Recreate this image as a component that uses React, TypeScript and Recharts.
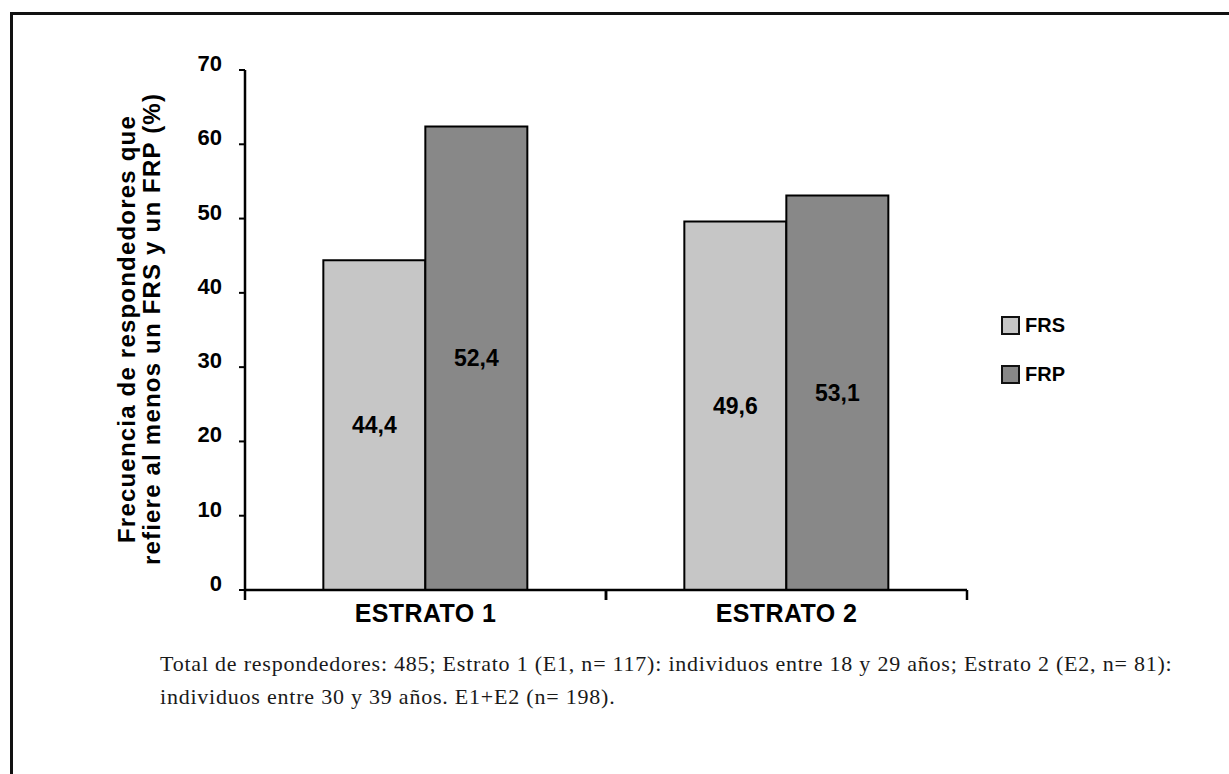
import { BarChart, Bar, XAxis, YAxis, LabelList } from "recharts"

const categories = ["ESTRATO 1", "ESTRATO 2"]
const seriesNames = ["FRS", "FRP"]
const frsValues = [44.4, 49.6]
const frpValues = [62.4, 53.1]
const frsLabels = ["44,4", "49,6"]
const frpLabels = ["52,4", "53,1"]
const yTicks = [0, 10, 20, 30, 40, 50, 60, 70]
const seriesColors = ["#c6c6c6", "#888888"]

const data = categories.map((name, i) => ({
    name,
    frs: frsValues[i],
    frp: frpValues[i],
    frsLabel: frsLabels[i],
    frpLabel: frpLabels[i],
}))

const sans = "'Liberation Sans', Arial, sans-serif"

function YTick(props: any) {
    const { x, y, payload } = props
    return (
        <text
            x={x}
            y={y}
            dy={1}
            textAnchor="end"
            fontFamily={sans}
            fontWeight="bold"
            fontSize={22}
            fill="#000"
        >
            {payload.value}
        </text>
    )
}

// category label plus tick marks on the band edges
function XTick(props: any) {
    const { x, y, payload, width, visibleTicksCount } = props
    const half =
        payload.offset ?? width / (2 * (visibleTicksCount || 2))
    return (
        <g>
            <line x1={x - half} x2={x - half} y1={y} y2={y + 10} stroke="#000" strokeWidth={2.5} />
            <line x1={x + half} x2={x + half} y1={y} y2={y + 10} stroke="#000" strokeWidth={2.5} />
            <text
                x={x}
                y={y}
                dy={32}
                textAnchor="middle"
                fontFamily={sans}
                fontWeight="bold"
                fontSize={25}
                letterSpacing={0.4}
                fill="#000"
            >
                {payload.value}
            </text>
        </g>
    )
}

export default function App() {
    return (
        <div
            style={{
                position: "absolute",
                left: 0,
                top: 0,
                width: 1229,
                height: 774,
                overflow: "hidden",
                background: "#fff",
            }}
        >
            <div
                style={{
                    position: "absolute",
                    left: 10,
                    top: 12,
                    width: 1300,
                    height: 900,
                    borderTop: "3px solid #111",
                    borderLeft: "3px solid #111",
                }}
            />

            <div style={{ position: "absolute", left: 0, top: 0 }}>
                <BarChart
                    width={1229}
                    height={774}
                    data={data}
                    margin={{ top: 70, right: 262, left: 185, bottom: 154 }}
                    barCategoryGap="21.7%"
                    barGap={0}
                >
                    <XAxis
                        dataKey="name"
                        height={30}
                        axisLine={{ stroke: "#000", strokeWidth: 2.5 }}
                        tickLine={false}
                        tickSize={0}
                        tickMargin={0}
                        tick={<XTick />}
                        interval={0}
                    />
                    <YAxis
                        width={60}
                        domain={[0, 70]}
                        ticks={yTicks}
                        interval={0}
                        axisLine={{ stroke: "#000", strokeWidth: 2.5 }}
                        tickSize={6}
                        tickMargin={17}
                        tickLine={{ stroke: "#000", strokeWidth: 2 }}
                        tick={<YTick />}
                    />
                    <Bar
                        dataKey="frs"
                        name={seriesNames[0]}
                        fill={seriesColors[0]}
                        stroke="#000"
                        strokeWidth={2}
                        isAnimationActive={false}
                    >
                        <LabelList
                            dataKey="frsLabel"
                            position="center"
                            fill="#000"
                            fontFamily={sans}
                            fontWeight="bold"
                            fontSize={23}
                        />
                    </Bar>
                    <Bar
                        dataKey="frp"
                        name={seriesNames[1]}
                        fill={seriesColors[1]}
                        stroke="#000"
                        strokeWidth={2}
                        isAnimationActive={false}
                    >
                        <LabelList
                            dataKey="frpLabel"
                            position="center"
                            fill="#000"
                            fontFamily={sans}
                            fontWeight="bold"
                            fontSize={23}
                        />
                    </Bar>
                </BarChart>
            </div>

            <div
                style={{
                    position: "absolute",
                    left: 140 - 280,
                    top: 329 - 26,
                    width: 560,
                    height: 52,
                    transform: "rotate(-90deg)",
                    transformOrigin: "center",
                    textAlign: "center",
                    fontFamily: sans,
                    fontWeight: "bold",
                    fontSize: 24,
                    letterSpacing: 1.2,
                    lineHeight: "25px",
                    color: "#000",
                    whiteSpace: "nowrap",
                }}
            >
                Frecuencia de respondedores que
                <br />
                refiere al menos un FRS y un FRP (%)
            </div>

            {seriesNames.map((s, i) => (
                <div
                    key={s}
                    style={{
                        position: "absolute",
                        left: 1001,
                        top: 314 + i * 49,
                        display: "flex",
                        alignItems: "center",
                        fontFamily: sans,
                        fontWeight: "bold",
                        fontSize: 20,
                        color: "#000",
                    }}
                >
                    <span
                        style={{
                            display: "inline-block",
                            width: 15,
                            height: 15,
                            border: "2px solid #111",
                            background: seriesColors[i],
                            marginRight: 5,
                        }}
                    />
                    {s}
                </div>
            ))}

            <div
                style={{
                    position: "absolute",
                    left: 160,
                    top: 647,
                    fontFamily: "'Liberation Serif', 'Times New Roman', serif",
                    fontSize: 22,
                    letterSpacing: 0.78,
                    lineHeight: "33px",
                    color: "#1a1a1a",
                    whiteSpace: "nowrap",
                }}
            >
                Total de respondedores: 485; Estrato 1 (E1, n= 117): individuos entre 18 y 29 años; Estrato 2 (E2, n= 81):
                <br />
                individuos entre 30 y 39 años. E1+E2 (n= 198).
            </div>
        </div>
    )
}
